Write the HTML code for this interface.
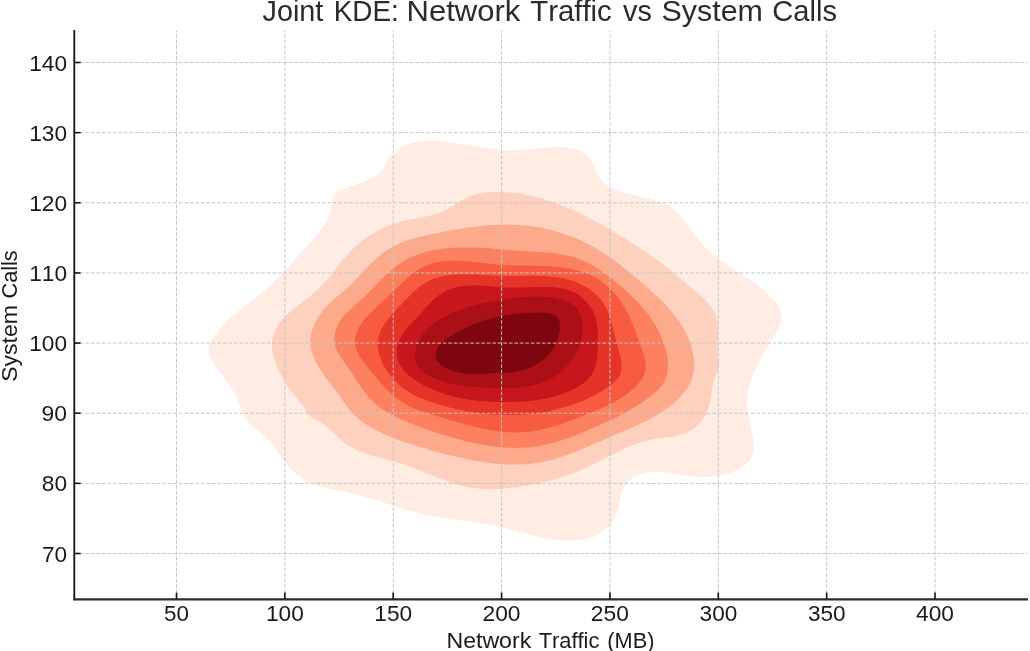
<!DOCTYPE html>
<html><head><meta charset="utf-8"><title>Joint KDE: Network Traffic vs System Calls</title><style>
html,body{margin:0;padding:0;background:#fff;width:1030px;height:651px;overflow:hidden}
svg{display:block;will-change:transform}
text{font-family:"Liberation Sans",sans-serif;font-kerning:none}
</style></head><body>
<svg width="1030" height="651" viewBox="0 0 1030 651">
<rect width="1030" height="651" fill="#fff"/>
<path d="M213.6,336.8 L217.9,331.0 L222.6,325.6 L227.5,320.6 L232.7,315.9 L238.0,311.4 L243.5,307.0 L249.0,302.8 L254.5,298.5 L260.0,294.2 L265.3,289.7 L270.5,285.0 L275.6,280.1 L280.5,275.1 L285.4,269.9 L290.2,264.7 L295.0,259.4 L299.7,254.1 L304.4,248.8 L309.2,243.5 L314.0,238.3 L318.6,233.1 L322.9,227.6 L326.5,221.7 L329.3,215.4 L331.1,208.4 L332.3,201.0 L334.7,194.6 L339.8,190.1 L346.8,187.3 L354.1,185.1 L360.7,183.0 L366.9,180.6 L373.3,177.6 L379.5,173.6 L384.2,168.4 L386.3,162.0 L389.7,157.0 L394.7,152.9 L399.8,148.5 L405.6,145.1 L411.9,142.8 L418.6,141.5 L425.7,140.9 L432.9,140.9 L440.1,141.3 L447.3,142.0 L454.4,143.0 L461.5,144.0 L468.5,145.2 L475.4,146.3 L482.4,147.5 L489.3,148.5 L496.3,149.3 L503.2,150.0 L510.2,150.3 L517.3,150.3 L524.4,149.8 L531.6,149.1 L538.8,148.3 L545.9,147.5 L553.0,147.1 L560.1,147.1 L567.0,147.7 L574.0,149.0 L580.9,151.0 L586.8,154.5 L591.0,160.2 L594.1,167.1 L597.1,174.0 L601.1,179.8 L605.9,184.4 L611.6,187.9 L617.9,190.7 L624.6,192.9 L631.5,194.6 L638.6,196.1 L645.7,197.7 L652.6,199.4 L659.3,201.5 L665.7,204.1 L671.6,207.5 L676.9,211.8 L681.6,217.0 L686.0,222.7 L690.2,228.8 L694.5,234.9 L698.9,240.6 L703.6,245.9 L708.7,250.8 L714.0,255.3 L719.5,259.4 L725.2,263.4 L731.0,267.3 L736.9,271.1 L742.8,274.9 L748.7,278.9 L754.6,283.0 L760.4,287.5 L766.0,292.3 L771.4,297.5 L776.2,303.1 L779.9,309.1 L781.7,315.4 L781.2,321.8 L778.7,328.3 L775.0,334.7 L771.2,340.9 L767.5,347.0 L764.0,353.0 L760.6,359.0 L757.4,365.2 L754.5,371.5 L751.8,378.1 L749.5,385.0 L747.8,391.9 L746.9,398.9 L746.9,405.8 L747.7,412.7 L749.0,419.6 L750.6,426.6 L752.3,433.7 L753.6,440.9 L753.9,448.0 L752.6,454.7 L749.2,460.7 L743.8,465.7 L737.8,469.7 L731.4,472.6 L724.7,474.7 L717.7,476.0 L710.6,476.7 L703.5,476.9 L696.3,476.6 L689.2,476.0 L682.2,475.0 L675.4,473.9 L668.6,472.8 L661.7,472.1 L654.7,471.9 L647.4,472.6 L640.0,474.3 L633.2,477.2 L627.7,481.4 L623.8,487.0 L621.4,493.6 L619.6,500.8 L618.0,508.1 L615.9,515.1 L612.8,521.2 L608.4,526.5 L603.2,530.8 L597.2,534.4 L590.8,537.1 L584.0,539.0 L577.0,540.2 L570.1,540.7 L563.2,540.7 L556.3,540.1 L549.4,539.1 L542.4,537.7 L535.5,536.1 L528.6,534.3 L521.7,532.4 L514.7,530.5 L507.7,528.6 L500.8,526.9 L493.8,525.3 L486.7,524.0 L479.7,522.9 L472.7,521.8 L465.7,520.9 L458.7,519.9 L451.7,519.0 L444.7,518.0 L437.8,516.9 L430.9,515.7 L424.0,514.4 L417.2,512.8 L410.5,511.0 L403.7,509.0 L397.0,507.0 L390.3,504.8 L383.6,502.6 L376.8,500.4 L370.0,498.3 L363.2,496.3 L356.2,494.4 L349.2,492.7 L342.1,491.3 L335.0,489.8 L327.9,488.3 L321.0,486.6 L314.4,484.5 L308.1,481.9 L302.1,478.6 L296.7,474.4 L291.6,469.6 L286.9,464.1 L282.4,458.4 L278.0,452.4 L273.6,446.5 L269.0,440.9 L264.1,435.7 L258.8,431.2 L253.5,427.0 L248.6,422.5 L244.8,417.0 L242.1,410.5 L239.6,403.8 L236.8,397.5 L233.6,391.6 L230.0,385.8 L226.1,380.0 L221.8,374.3 L217.2,368.4 L212.8,362.3 L209.5,356.0 L208.3,349.6 L210.0,343.1Z" fill="#ffece3"/>
<path d="M274.0,332.9 L276.0,328.4 L278.8,324.0 L282.0,319.8 L285.6,316.0 L289.4,312.4 L293.4,309.0 L297.6,305.7 L301.8,302.5 L306.0,299.3 L310.1,296.1 L314.2,292.7 L318.1,289.2 L321.8,285.4 L325.3,281.5 L328.8,277.4 L332.2,273.3 L335.5,269.1 L338.9,264.9 L342.2,260.7 L345.7,256.7 L349.2,252.7 L352.9,248.9 L356.7,245.4 L360.7,242.0 L364.8,238.8 L369.1,235.8 L373.5,233.0 L378.0,230.5 L382.7,228.2 L387.4,226.1 L392.3,224.3 L397.3,222.7 L402.5,221.3 L407.6,220.2 L412.9,219.2 L418.2,218.2 L423.4,217.1 L428.6,216.0 L433.8,214.6 L438.8,213.0 L443.7,211.0 L448.5,208.5 L453.1,205.7 L457.6,202.7 L462.2,199.9 L467.0,197.5 L471.9,195.6 L477.0,194.1 L482.2,193.1 L487.5,192.4 L492.9,192.0 L498.3,191.9 L503.6,192.1 L509.0,192.4 L514.3,192.9 L519.5,193.6 L524.7,194.5 L529.9,195.5 L535.0,196.7 L540.1,198.0 L545.1,199.5 L550.2,201.1 L555.1,202.9 L560.1,204.7 L565.0,206.7 L569.8,208.7 L574.7,210.9 L579.5,213.1 L584.2,215.5 L589.0,217.9 L593.7,220.4 L598.4,222.9 L603.0,225.5 L607.6,228.2 L612.2,230.9 L616.7,233.6 L621.3,236.3 L625.8,239.1 L630.2,241.9 L634.7,244.7 L639.1,247.5 L643.5,250.3 L647.8,253.2 L652.0,256.2 L656.2,259.2 L660.4,262.3 L664.5,265.5 L668.5,268.8 L672.6,272.1 L676.7,275.4 L680.8,278.8 L684.9,282.3 L689.1,285.7 L693.3,289.2 L697.5,292.8 L701.5,296.4 L705.4,300.2 L708.9,304.2 L711.9,308.3 L714.5,312.7 L716.5,317.3 L717.9,322.2 L718.4,327.4 L718.4,332.9 L718.1,338.5 L717.6,344.1 L717.3,349.5 L717.4,354.7 L718.1,359.6 L718.8,364.2 L718.6,368.6 L716.9,373.0 L714.7,377.7 L713.2,382.7 L712.2,388.1 L711.4,393.5 L710.6,399.0 L709.6,404.4 L708.0,409.5 L705.9,414.3 L703.2,418.8 L700.0,422.8 L696.3,426.4 L692.3,429.6 L687.8,432.2 L683.1,434.3 L678.1,435.7 L672.9,436.7 L667.5,437.4 L662.1,438.0 L656.8,438.6 L651.5,439.5 L646.3,440.7 L641.1,442.2 L636.1,443.9 L631.1,445.8 L626.2,447.8 L621.3,450.0 L616.5,452.3 L611.7,454.7 L607.0,457.2 L602.2,459.6 L597.5,462.1 L592.7,464.5 L588.0,466.8 L583.2,469.0 L578.4,471.1 L573.6,473.1 L568.7,474.9 L563.8,476.6 L558.8,478.2 L553.8,479.6 L548.8,480.9 L543.7,482.1 L538.6,483.3 L533.4,484.3 L528.2,485.2 L522.9,486.1 L517.6,486.9 L512.2,487.6 L506.8,488.3 L501.3,488.7 L495.9,489.1 L490.5,489.2 L485.1,489.1 L479.8,488.8 L474.6,488.1 L469.4,487.3 L464.3,486.2 L459.3,484.9 L454.3,483.4 L449.3,481.8 L444.3,480.0 L439.4,478.2 L434.5,476.3 L429.6,474.3 L424.7,472.4 L419.8,470.4 L414.8,468.5 L409.9,466.6 L404.8,464.8 L399.8,463.1 L394.7,461.6 L389.6,460.2 L384.4,458.9 L379.2,457.6 L374.1,456.2 L369.0,454.8 L364.0,453.2 L359.1,451.3 L354.4,449.1 L349.8,446.6 L345.4,443.7 L341.3,440.3 L337.3,436.5 L333.4,432.6 L329.5,428.8 L325.5,425.3 L321.4,422.3 L317.1,420.1 L312.8,418.2 L309.1,415.6 L306.5,411.4 L304.0,407.1 L301.1,403.2 L297.9,399.5 L294.7,395.6 L291.5,391.4 L288.3,387.0 L285.2,382.3 L282.3,377.6 L279.7,372.7 L277.3,367.7 L275.3,362.7 L273.7,357.6 L272.6,352.5 L272.0,347.5 L272.0,342.5 L272.6,337.7Z" fill="#fdd1be"/>
<path d="M310.3,341.9 L310.5,337.8 L311.2,333.7 L312.4,329.6 L313.9,325.5 L315.8,321.5 L318.0,317.6 L320.6,313.8 L323.3,310.1 L326.3,306.6 L329.5,303.3 L332.8,300.2 L336.1,297.3 L339.6,294.5 L343.0,291.7 L346.4,288.8 L349.6,285.8 L352.8,282.7 L355.9,279.5 L358.9,276.2 L361.9,272.9 L364.9,269.7 L368.0,266.5 L371.1,263.4 L374.2,260.4 L377.5,257.6 L380.8,254.8 L384.2,252.2 L387.7,249.8 L391.4,247.6 L395.1,245.5 L399.0,243.6 L403.1,242.0 L407.2,240.5 L411.5,239.1 L415.8,237.9 L420.2,236.8 L424.6,235.8 L429.0,234.8 L433.4,233.8 L437.8,232.9 L442.3,232.0 L446.7,231.1 L451.1,230.3 L455.5,229.5 L459.9,228.8 L464.3,228.1 L468.7,227.5 L473.1,226.9 L477.4,226.4 L481.8,225.9 L486.2,225.5 L490.6,225.2 L494.9,225.0 L499.3,224.8 L503.6,224.7 L508.0,224.7 L512.3,224.8 L516.7,225.0 L521.0,225.2 L525.3,225.6 L529.7,226.1 L534.0,226.7 L538.3,227.3 L542.6,228.1 L546.9,229.1 L551.2,230.1 L555.5,231.2 L559.8,232.5 L564.1,233.9 L568.3,235.4 L572.5,237.0 L576.6,238.6 L580.7,240.4 L584.7,242.3 L588.6,244.3 L592.5,246.3 L596.2,248.5 L599.9,250.7 L603.5,252.9 L607.0,255.3 L610.5,257.7 L613.9,260.2 L617.2,262.7 L620.6,265.3 L623.9,267.9 L627.2,270.5 L630.5,273.3 L633.8,276.0 L637.1,278.8 L640.4,281.6 L643.7,284.4 L647.0,287.3 L650.4,290.2 L653.7,293.2 L656.9,296.2 L660.2,299.3 L663.3,302.4 L666.4,305.7 L669.4,309.0 L672.3,312.4 L675.1,315.9 L677.8,319.5 L680.3,323.2 L682.7,327.1 L684.9,331.0 L686.9,335.1 L688.7,339.3 L690.4,343.6 L691.7,348.0 L692.8,352.4 L693.6,356.8 L694.1,361.2 L694.2,365.6 L693.9,369.9 L693.2,374.1 L692.1,378.2 L690.5,382.1 L688.6,386.0 L686.2,389.6 L683.5,393.1 L680.6,396.5 L677.5,399.7 L674.2,402.7 L670.9,405.5 L667.4,408.2 L663.8,410.7 L660.2,413.1 L656.4,415.4 L652.6,417.6 L648.7,419.7 L644.8,421.7 L640.8,423.6 L636.8,425.5 L632.7,427.3 L628.7,429.1 L624.5,430.8 L620.4,432.6 L616.3,434.3 L612.1,436.1 L608.0,437.9 L603.8,439.7 L599.7,441.5 L595.5,443.3 L591.4,445.1 L587.2,446.9 L583.1,448.6 L578.9,450.4 L574.8,452.0 L570.6,453.6 L566.4,455.1 L562.2,456.6 L558.0,457.9 L553.8,459.2 L549.6,460.3 L545.3,461.3 L541.0,462.2 L536.7,462.9 L532.4,463.5 L528.1,464.0 L523.7,464.3 L519.4,464.5 L515.0,464.6 L510.6,464.5 L506.2,464.4 L501.8,464.1 L497.4,463.7 L493.0,463.3 L488.5,462.8 L484.1,462.1 L479.7,461.5 L475.3,460.7 L470.9,459.9 L466.5,459.0 L462.1,458.0 L457.7,457.1 L453.3,456.0 L449.0,455.0 L444.6,453.9 L440.3,452.7 L436.0,451.6 L431.7,450.4 L427.4,449.2 L423.2,448.0 L419.0,446.8 L414.8,445.5 L410.6,444.1 L406.4,442.7 L402.3,441.3 L398.1,439.7 L394.0,438.2 L389.9,436.5 L385.8,434.8 L381.7,433.0 L377.7,431.1 L373.8,429.1 L369.9,426.9 L366.2,424.6 L362.7,422.2 L359.2,419.5 L356.0,416.7 L353.0,413.7 L350.2,410.5 L347.6,407.1 L345.0,403.5 L342.4,399.9 L339.8,396.2 L337.1,392.5 L334.3,388.8 L331.4,385.0 L328.5,381.3 L325.7,377.5 L323.0,373.6 L320.4,369.8 L318.0,365.9 L315.9,362.0 L314.0,358.0 L312.5,354.1 L311.3,350.1 L310.6,346.0Z" fill="#fca98c"/>
<path d="M334.6,343.3 L334.2,339.8 L334.4,336.4 L334.9,332.9 L335.9,329.4 L337.2,326.1 L338.9,322.8 L340.9,319.6 L343.2,316.6 L345.7,313.8 L348.5,311.1 L351.3,308.4 L354.3,305.8 L357.3,303.1 L360.3,300.5 L363.2,297.8 L366.1,295.1 L368.9,292.3 L371.7,289.5 L374.4,286.6 L377.1,283.8 L379.8,281.0 L382.5,278.3 L385.2,275.6 L388.0,273.0 L390.8,270.5 L393.7,268.1 L396.6,265.8 L399.6,263.6 L402.7,261.6 L406.0,259.8 L409.2,258.1 L412.6,256.6 L416.1,255.2 L419.6,253.9 L423.2,252.8 L426.8,251.7 L430.5,250.8 L434.2,250.1 L438.0,249.4 L441.8,248.8 L445.6,248.4 L449.5,248.0 L453.4,247.7 L457.3,247.5 L461.2,247.4 L465.1,247.4 L469.0,247.4 L472.8,247.5 L476.7,247.6 L480.5,247.8 L484.3,248.0 L488.1,248.3 L491.9,248.6 L495.7,249.0 L499.5,249.3 L503.3,249.6 L507.1,250.0 L510.9,250.3 L514.7,250.6 L518.5,250.9 L522.4,251.1 L526.3,251.3 L530.2,251.5 L534.1,251.7 L538.0,251.9 L541.9,252.2 L545.8,252.4 L549.7,252.8 L553.6,253.1 L557.4,253.6 L561.2,254.2 L564.9,254.9 L568.6,255.7 L572.2,256.7 L575.7,257.8 L579.2,259.0 L582.6,260.4 L586.0,261.9 L589.3,263.6 L592.6,265.4 L595.8,267.2 L598.9,269.2 L602.0,271.3 L605.1,273.5 L608.2,275.7 L611.2,278.0 L614.1,280.4 L617.1,282.9 L620.0,285.4 L622.9,287.9 L625.8,290.5 L628.6,293.1 L631.4,295.8 L634.1,298.6 L636.8,301.3 L639.5,304.2 L642.0,307.1 L644.5,310.0 L647.0,313.0 L649.3,316.1 L651.5,319.2 L653.6,322.5 L655.6,325.7 L657.5,329.1 L659.3,332.5 L661.0,336.0 L662.5,339.6 L663.8,343.2 L665.1,347.0 L666.1,350.8 L666.9,354.6 L667.6,358.5 L667.9,362.3 L668.0,366.1 L667.8,369.8 L667.3,373.4 L666.3,376.8 L665.0,380.1 L663.3,383.2 L661.2,386.1 L658.8,388.9 L656.2,391.5 L653.4,394.0 L650.4,396.4 L647.3,398.7 L644.1,401.0 L640.9,403.2 L637.6,405.3 L634.3,407.3 L631.0,409.3 L627.6,411.3 L624.2,413.2 L620.7,415.0 L617.2,416.8 L613.7,418.5 L610.2,420.2 L606.6,421.9 L603.1,423.5 L599.5,425.1 L596.0,426.7 L592.4,428.2 L588.9,429.7 L585.3,431.2 L581.8,432.7 L578.2,434.1 L574.7,435.5 L571.2,436.9 L567.6,438.2 L564.1,439.4 L560.6,440.6 L557.0,441.7 L553.5,442.8 L549.9,443.7 L546.3,444.6 L542.7,445.4 L539.0,446.0 L535.3,446.6 L531.7,447.0 L527.9,447.4 L524.2,447.6 L520.4,447.8 L516.7,447.9 L512.9,447.8 L509.1,447.7 L505.2,447.5 L501.4,447.2 L497.6,446.8 L493.7,446.4 L489.9,445.9 L486.1,445.3 L482.2,444.7 L478.4,443.9 L474.5,443.2 L470.7,442.3 L466.8,441.4 L463.0,440.5 L459.2,439.5 L455.4,438.5 L451.6,437.4 L447.8,436.3 L444.1,435.1 L440.3,434.0 L436.6,432.7 L432.9,431.5 L429.3,430.2 L425.6,428.9 L422.0,427.6 L418.4,426.3 L414.9,424.9 L411.4,423.6 L407.9,422.2 L404.4,420.8 L401.1,419.3 L397.7,417.8 L394.4,416.2 L391.2,414.5 L388.1,412.8 L385.0,410.9 L382.0,408.9 L379.1,406.7 L376.2,404.4 L373.5,402.0 L370.8,399.4 L368.2,396.6 L365.8,393.6 L363.4,390.4 L361.0,387.1 L358.8,383.7 L356.5,380.2 L354.2,376.7 L351.9,373.3 L349.6,369.8 L347.2,366.4 L344.8,363.1 L342.5,359.8 L340.3,356.5 L338.4,353.2 L336.7,349.9 L335.5,346.6Z" fill="#fc8161"/>
<path d="M354.8,340.2 L355.2,337.2 L356.0,334.1 L357.2,331.0 L358.6,328.0 L360.4,325.1 L362.3,322.2 L364.3,319.5 L366.5,316.9 L368.8,314.5 L371.1,312.2 L373.4,310.0 L375.9,307.9 L378.3,305.7 L380.8,303.6 L383.3,301.3 L385.7,299.0 L388.2,296.6 L390.7,294.2 L393.2,291.7 L395.7,289.2 L398.2,286.6 L400.7,284.2 L403.3,281.7 L405.8,279.3 L408.4,277.0 L411.1,274.8 L413.8,272.7 L416.5,270.8 L419.2,269.1 L422.0,267.5 L424.9,266.1 L427.8,264.9 L430.8,263.9 L433.7,263.1 L436.8,262.4 L439.9,261.8 L443.0,261.4 L446.1,261.1 L449.3,260.9 L452.5,260.8 L455.8,260.8 L459.1,260.9 L462.4,261.0 L465.7,261.3 L469.1,261.5 L472.5,261.9 L475.9,262.2 L479.3,262.6 L482.7,263.0 L486.2,263.3 L489.6,263.7 L493.1,264.1 L496.6,264.4 L500.1,264.7 L503.6,264.9 L507.1,265.1 L510.6,265.3 L514.1,265.4 L517.7,265.5 L521.2,265.6 L524.7,265.6 L528.1,265.7 L531.6,265.8 L535.1,265.8 L538.5,265.9 L542.0,266.0 L545.4,266.1 L548.8,266.3 L552.1,266.5 L555.5,266.7 L558.8,267.1 L562.1,267.4 L565.3,267.9 L568.5,268.4 L571.7,269.0 L574.8,269.7 L577.9,270.5 L581.0,271.4 L584.0,272.4 L587.0,273.5 L589.9,274.7 L592.7,276.1 L595.5,277.6 L598.3,279.3 L601.0,281.1 L603.6,283.0 L606.1,285.1 L608.6,287.3 L611.0,289.6 L613.3,292.0 L615.5,294.5 L617.7,297.2 L619.7,299.8 L621.6,302.6 L623.4,305.4 L625.1,308.3 L626.7,311.3 L628.2,314.3 L629.7,317.3 L631.0,320.4 L632.4,323.5 L633.6,326.7 L634.9,329.9 L636.0,333.1 L637.2,336.3 L638.4,339.6 L639.5,342.9 L640.7,346.1 L641.9,349.4 L643.0,352.7 L644.0,356.0 L644.8,359.2 L645.4,362.4 L645.7,365.5 L645.7,368.5 L645.2,371.5 L644.3,374.3 L643.0,377.1 L641.4,379.7 L639.5,382.3 L637.4,384.7 L635.2,387.1 L632.8,389.3 L630.3,391.4 L627.7,393.5 L625.0,395.4 L622.2,397.3 L619.4,399.1 L616.5,400.8 L613.5,402.4 L610.5,404.0 L607.4,405.5 L604.3,407.0 L601.1,408.4 L597.9,409.8 L594.7,411.2 L591.5,412.5 L588.3,413.8 L585.1,415.1 L581.9,416.4 L578.7,417.6 L575.6,418.9 L572.4,420.1 L569.2,421.2 L566.0,422.4 L562.9,423.5 L559.7,424.5 L556.5,425.5 L553.4,426.5 L550.2,427.4 L547.0,428.2 L543.8,429.0 L540.6,429.7 L537.4,430.4 L534.2,430.9 L531.0,431.4 L527.8,431.8 L524.5,432.1 L521.3,432.3 L518.0,432.4 L514.7,432.4 L511.5,432.3 L508.1,432.2 L504.8,431.9 L501.5,431.6 L498.2,431.2 L494.8,430.8 L491.5,430.2 L488.1,429.6 L484.8,429.0 L481.4,428.3 L478.1,427.5 L474.7,426.7 L471.4,425.9 L468.0,425.0 L464.7,424.2 L461.4,423.2 L458.0,422.3 L454.7,421.3 L451.4,420.4 L448.1,419.4 L444.8,418.4 L441.5,417.4 L438.3,416.4 L435.0,415.5 L431.8,414.5 L428.6,413.5 L425.4,412.5 L422.3,411.5 L419.2,410.4 L416.1,409.2 L413.1,408.0 L410.2,406.6 L407.3,405.2 L404.5,403.6 L401.8,401.9 L399.1,400.0 L396.5,398.1 L394.0,396.0 L391.5,393.8 L389.1,391.5 L386.7,389.2 L384.4,386.8 L382.0,384.3 L379.7,381.7 L377.5,379.1 L375.2,376.5 L373.0,373.8 L370.7,371.2 L368.5,368.5 L366.3,365.8 L364.1,363.1 L362.1,360.3 L360.3,357.6 L358.6,354.8 L357.2,352.0 L356.1,349.1 L355.3,346.2 L354.8,343.2Z" fill="#f75b40"/>
<path d="M377.9,340.2 L378.4,337.6 L379.1,335.1 L379.9,332.6 L381.0,330.2 L382.2,327.8 L383.6,325.4 L385.1,323.1 L386.8,320.8 L388.6,318.5 L390.4,316.2 L392.4,314.0 L394.4,311.7 L396.4,309.5 L398.5,307.3 L400.6,305.0 L402.8,302.8 L404.9,300.6 L407.0,298.4 L409.2,296.2 L411.3,294.1 L413.5,292.0 L415.6,290.0 L417.9,288.1 L420.1,286.3 L422.4,284.7 L424.7,283.2 L427.1,281.8 L429.5,280.6 L431.9,279.5 L434.4,278.5 L437.0,277.7 L439.5,276.9 L442.1,276.3 L444.8,275.8 L447.4,275.3 L450.1,275.0 L452.9,274.7 L455.6,274.5 L458.4,274.4 L461.2,274.3 L464.0,274.3 L466.9,274.3 L469.8,274.4 L472.6,274.5 L475.5,274.6 L478.5,274.7 L481.4,274.9 L484.3,275.1 L487.3,275.3 L490.3,275.4 L493.2,275.6 L496.2,275.7 L499.2,275.8 L502.2,275.9 L505.2,276.0 L508.1,276.0 L511.1,276.0 L514.1,276.0 L517.1,276.0 L520.1,275.9 L523.0,275.9 L526.0,275.9 L528.9,275.8 L531.9,275.8 L534.8,275.8 L537.7,275.9 L540.6,275.9 L543.5,276.1 L546.4,276.2 L549.2,276.4 L552.0,276.7 L554.8,277.0 L557.6,277.3 L560.4,277.8 L563.1,278.3 L565.8,278.9 L568.5,279.6 L571.1,280.4 L573.8,281.3 L576.3,282.2 L578.9,283.3 L581.4,284.5 L583.9,285.8 L586.3,287.3 L588.7,288.8 L591.0,290.5 L593.2,292.2 L595.4,294.1 L597.4,296.1 L599.4,298.1 L601.2,300.3 L602.9,302.5 L604.4,304.8 L605.8,307.2 L607.0,309.7 L608.2,312.2 L609.2,314.8 L610.1,317.5 L610.9,320.2 L611.6,322.9 L612.3,325.7 L613.0,328.6 L613.7,331.4 L614.4,334.3 L615.2,337.2 L615.9,340.1 L616.8,343.0 L617.6,345.9 L618.4,348.7 L619.2,351.6 L620.0,354.4 L620.6,357.2 L621.1,359.9 L621.5,362.6 L621.6,365.2 L621.6,367.7 L621.3,370.2 L620.8,372.5 L619.9,374.8 L618.7,377.0 L617.3,379.0 L615.5,381.0 L613.6,382.9 L611.4,384.7 L609.1,386.4 L606.7,388.0 L604.2,389.6 L601.7,391.2 L599.1,392.6 L596.5,394.1 L593.9,395.4 L591.3,396.7 L588.7,398.0 L586.0,399.2 L583.4,400.4 L580.7,401.5 L578.0,402.6 L575.3,403.6 L572.6,404.6 L569.9,405.6 L567.2,406.4 L564.4,407.3 L561.7,408.1 L558.9,408.8 L556.1,409.5 L553.3,410.2 L550.5,410.8 L547.7,411.4 L544.9,411.9 L542.1,412.4 L539.3,412.8 L536.5,413.2 L533.6,413.6 L530.8,413.9 L528.0,414.2 L525.1,414.4 L522.3,414.6 L519.4,414.8 L516.6,414.9 L513.7,415.0 L510.8,415.0 L508.0,415.0 L505.1,415.0 L502.3,414.9 L499.4,414.8 L496.6,414.7 L493.7,414.5 L490.9,414.3 L488.0,414.0 L485.2,413.8 L482.3,413.4 L479.5,413.1 L476.7,412.7 L473.8,412.3 L471.0,411.9 L468.2,411.4 L465.4,410.9 L462.6,410.3 L459.8,409.8 L457.0,409.2 L454.2,408.5 L451.5,407.9 L448.7,407.2 L446.0,406.4 L443.2,405.7 L440.5,404.9 L437.8,404.1 L435.1,403.3 L432.4,402.4 L429.7,401.5 L427.1,400.6 L424.5,399.6 L421.8,398.6 L419.2,397.5 L416.7,396.3 L414.2,395.0 L411.7,393.7 L409.2,392.3 L406.8,390.7 L404.4,389.1 L402.1,387.3 L399.8,385.4 L397.6,383.4 L395.4,381.3 L393.3,379.0 L391.3,376.7 L389.4,374.3 L387.6,371.9 L386.0,369.4 L384.4,366.8 L383.0,364.2 L381.7,361.5 L380.6,358.8 L379.7,356.2 L378.9,353.5 L378.3,350.8 L377.9,348.1 L377.7,345.4 L377.7,342.8Z" fill="#e63328"/>
<path d="M399.3,340.3 L400.3,338.1 L401.4,336.1 L402.6,334.1 L403.9,332.1 L405.4,330.3 L406.9,328.4 L408.5,326.6 L410.1,324.9 L411.7,323.1 L413.4,321.4 L415.0,319.7 L416.7,318.0 L418.3,316.2 L419.9,314.5 L421.5,312.7 L423.0,311.0 L424.6,309.2 L426.1,307.4 L427.7,305.7 L429.3,304.0 L431.0,302.3 L432.6,300.6 L434.4,299.0 L436.2,297.5 L438.0,296.0 L440.0,294.6 L442.0,293.3 L444.1,292.1 L446.2,291.0 L448.3,290.0 L450.5,289.1 L452.6,288.4 L454.8,287.7 L457.1,287.1 L459.3,286.7 L461.5,286.3 L463.8,286.0 L466.1,285.8 L468.4,285.6 L470.7,285.5 L473.0,285.5 L475.3,285.5 L477.7,285.5 L480.0,285.6 L482.4,285.8 L484.8,285.9 L487.2,286.1 L489.6,286.3 L492.1,286.5 L494.5,286.7 L496.9,286.9 L499.4,287.0 L501.9,287.2 L504.4,287.4 L506.8,287.5 L509.3,287.6 L511.8,287.6 L514.4,287.6 L516.9,287.6 L519.4,287.5 L521.9,287.4 L524.5,287.4 L527.0,287.3 L529.5,287.2 L532.0,287.1 L534.5,287.0 L537.0,286.9 L539.5,286.9 L541.9,286.8 L544.4,286.8 L546.8,286.9 L549.2,286.9 L551.6,287.1 L553.9,287.2 L556.3,287.5 L558.6,287.8 L560.8,288.2 L563.1,288.6 L565.3,289.1 L567.4,289.8 L569.5,290.5 L571.6,291.3 L573.7,292.2 L575.7,293.2 L577.6,294.4 L579.5,295.6 L581.3,297.0 L583.1,298.5 L584.8,300.1 L586.5,301.9 L588.0,303.7 L589.5,305.6 L590.9,307.6 L592.1,309.7 L593.3,311.9 L594.3,314.1 L595.1,316.3 L595.8,318.6 L596.4,321.0 L596.9,323.4 L597.2,325.8 L597.4,328.2 L597.6,330.6 L597.7,333.1 L597.7,335.6 L597.7,338.1 L597.7,340.6 L597.8,343.2 L597.7,345.7 L597.7,348.2 L597.7,350.7 L597.6,353.2 L597.4,355.6 L597.2,358.0 L596.8,360.4 L596.4,362.7 L595.9,365.0 L595.3,367.2 L594.5,369.3 L593.6,371.4 L592.5,373.4 L591.3,375.3 L589.9,377.0 L588.4,378.8 L586.8,380.4 L585.0,381.9 L583.1,383.4 L581.1,384.8 L579.1,386.1 L577.0,387.3 L574.8,388.5 L572.6,389.6 L570.4,390.6 L568.2,391.6 L565.9,392.5 L563.7,393.4 L561.4,394.2 L559.1,395.0 L556.9,395.7 L554.6,396.4 L552.2,397.0 L549.9,397.6 L547.6,398.1 L545.3,398.6 L542.9,399.0 L540.6,399.5 L538.2,399.8 L535.9,400.2 L533.5,400.5 L531.1,400.7 L528.8,401.0 L526.4,401.2 L524.0,401.4 L521.6,401.5 L519.2,401.6 L516.8,401.8 L514.4,401.9 L512.0,401.9 L509.6,402.0 L507.2,402.0 L504.8,402.0 L502.4,402.0 L500.0,402.0 L497.7,402.0 L495.3,401.9 L492.9,401.9 L490.5,401.8 L488.1,401.6 L485.7,401.5 L483.3,401.3 L480.9,401.1 L478.5,400.9 L476.2,400.6 L473.8,400.4 L471.4,400.0 L469.1,399.7 L466.7,399.3 L464.4,398.9 L462.0,398.5 L459.7,398.0 L457.3,397.5 L455.0,396.9 L452.7,396.4 L450.4,395.7 L448.1,395.1 L445.8,394.4 L443.5,393.6 L441.2,392.8 L438.9,392.0 L436.7,391.2 L434.4,390.2 L432.2,389.3 L430.0,388.3 L427.7,387.2 L425.5,386.1 L423.3,385.0 L421.1,383.8 L419.0,382.5 L416.8,381.2 L414.8,379.8 L412.7,378.4 L410.8,377.0 L408.9,375.4 L407.1,373.8 L405.4,372.2 L403.8,370.4 L402.4,368.6 L401.1,366.8 L399.9,364.9 L398.9,362.8 L398.1,360.8 L397.5,358.6 L397.1,356.4 L396.9,354.1 L396.8,351.8 L397.0,349.4 L397.3,347.1 L397.8,344.8 L398.5,342.5Z" fill="#c7171c"/>
<path d="M419.6,339.1 L420.6,337.5 L421.7,335.9 L423.0,334.3 L424.2,332.8 L425.6,331.3 L427.0,329.8 L428.5,328.4 L430.1,327.0 L431.7,325.7 L433.3,324.4 L435.0,323.1 L436.7,321.9 L438.5,320.8 L440.2,319.6 L442.0,318.5 L443.8,317.5 L445.6,316.5 L447.4,315.6 L449.1,314.6 L450.9,313.8 L452.7,312.9 L454.5,312.1 L456.3,311.4 L458.0,310.7 L459.8,310.0 L461.6,309.3 L463.4,308.7 L465.1,308.1 L466.9,307.5 L468.7,307.0 L470.5,306.5 L472.3,306.0 L474.0,305.5 L475.8,305.1 L477.6,304.6 L479.4,304.2 L481.2,303.8 L483.0,303.5 L484.8,303.1 L486.6,302.7 L488.5,302.4 L490.3,302.1 L492.1,301.7 L494.0,301.4 L495.8,301.1 L497.7,300.8 L499.6,300.5 L501.4,300.2 L503.3,299.9 L505.2,299.6 L507.1,299.3 L509.1,299.1 L511.0,298.8 L512.9,298.5 L514.8,298.2 L516.8,298.0 L518.7,297.8 L520.7,297.5 L522.6,297.3 L524.6,297.2 L526.6,297.0 L528.5,296.9 L530.5,296.7 L532.5,296.7 L534.4,296.6 L536.4,296.6 L538.4,296.6 L540.3,296.6 L542.3,296.7 L544.3,296.8 L546.2,296.9 L548.2,297.1 L550.1,297.3 L552.1,297.6 L554.0,297.9 L556.0,298.3 L557.9,298.7 L559.7,299.2 L561.6,299.7 L563.4,300.3 L565.1,300.9 L566.8,301.7 L568.5,302.4 L570.1,303.3 L571.6,304.2 L573.0,305.2 L574.4,306.3 L575.6,307.5 L576.8,308.8 L577.8,310.1 L578.8,311.6 L579.6,313.1 L580.4,314.7 L581.0,316.4 L581.5,318.2 L581.9,320.1 L582.1,322.0 L582.3,323.9 L582.4,325.9 L582.5,328.0 L582.4,330.0 L582.2,332.1 L582.0,334.1 L581.7,336.2 L581.3,338.2 L580.8,340.2 L580.3,342.2 L579.7,344.1 L579.1,346.0 L578.4,347.9 L577.6,349.7 L576.8,351.5 L575.9,353.3 L575.0,355.0 L574.0,356.7 L573.0,358.3 L571.9,359.9 L570.8,361.5 L569.6,363.0 L568.4,364.5 L567.1,365.9 L565.8,367.3 L564.4,368.6 L563.1,370.0 L561.6,371.2 L560.2,372.4 L558.7,373.6 L557.2,374.7 L555.6,375.8 L554.0,376.8 L552.4,377.8 L550.8,378.8 L549.1,379.7 L547.4,380.5 L545.7,381.3 L543.9,382.0 L542.2,382.7 L540.4,383.4 L538.6,384.0 L536.8,384.5 L535.0,385.0 L533.1,385.5 L531.2,385.9 L529.4,386.3 L527.5,386.6 L525.6,386.9 L523.7,387.2 L521.8,387.4 L519.8,387.6 L517.9,387.8 L516.0,388.0 L514.0,388.1 L512.1,388.2 L510.1,388.2 L508.2,388.3 L506.2,388.3 L504.2,388.3 L502.3,388.3 L500.3,388.3 L498.3,388.2 L496.4,388.2 L494.4,388.1 L492.5,388.0 L490.5,388.0 L488.6,387.9 L486.7,387.8 L484.7,387.6 L482.8,387.5 L480.9,387.4 L479.0,387.3 L477.1,387.2 L475.2,387.0 L473.4,386.9 L471.5,386.7 L469.6,386.6 L467.7,386.4 L465.9,386.2 L464.0,385.9 L462.1,385.7 L460.2,385.4 L458.3,385.1 L456.4,384.8 L454.5,384.4 L452.6,384.0 L450.7,383.6 L448.7,383.1 L446.8,382.6 L444.8,382.0 L442.9,381.4 L440.9,380.8 L438.9,380.1 L437.0,379.4 L435.0,378.6 L433.1,377.8 L431.3,376.9 L429.5,375.9 L427.8,374.9 L426.1,373.9 L424.5,372.8 L423.0,371.6 L421.6,370.4 L420.4,369.1 L419.2,367.8 L418.2,366.4 L417.3,364.9 L416.6,363.3 L416.0,361.8 L415.5,360.1 L415.2,358.4 L415.0,356.7 L415.0,355.0 L415.0,353.2 L415.2,351.4 L415.5,349.7 L415.9,347.9 L416.4,346.1 L417.1,344.3 L417.8,342.6 L418.6,340.8Z" fill="#aa1016"/>
<path d="M451.3,335.9 L452.6,335.1 L453.8,334.3 L455.1,333.6 L456.4,332.8 L457.7,332.1 L458.9,331.4 L460.2,330.7 L461.5,330.0 L462.8,329.3 L464.1,328.7 L465.3,328.0 L466.6,327.4 L467.9,326.8 L469.2,326.2 L470.5,325.7 L471.8,325.1 L473.1,324.5 L474.4,324.0 L475.7,323.5 L477.0,323.0 L478.3,322.5 L479.6,322.0 L480.9,321.6 L482.2,321.1 L483.5,320.7 L484.9,320.3 L486.2,319.9 L487.5,319.5 L488.8,319.1 L490.2,318.7 L491.5,318.4 L492.8,318.0 L494.2,317.7 L495.5,317.4 L496.8,317.1 L498.2,316.8 L499.5,316.5 L500.9,316.2 L502.2,315.9 L503.6,315.7 L505.0,315.5 L506.3,315.2 L507.7,315.0 L509.1,314.8 L510.4,314.6 L511.8,314.4 L513.2,314.2 L514.6,314.1 L516.0,313.9 L517.4,313.8 L518.8,313.6 L520.2,313.5 L521.6,313.4 L523.0,313.3 L524.4,313.2 L525.8,313.1 L527.2,313.0 L528.6,312.9 L530.1,312.9 L531.5,312.8 L532.9,312.8 L534.4,312.7 L535.8,312.7 L537.2,312.7 L538.7,312.7 L540.2,312.6 L541.6,312.7 L543.0,312.7 L544.4,312.7 L545.8,312.8 L547.2,313.0 L548.5,313.1 L549.8,313.4 L551.0,313.6 L552.2,314.0 L553.3,314.4 L554.4,314.8 L555.3,315.4 L556.2,316.0 L557.0,316.8 L557.7,317.6 L558.3,318.5 L558.8,319.5 L559.2,320.6 L559.5,321.8 L559.7,323.0 L559.9,324.3 L559.9,325.6 L559.9,327.0 L559.8,328.5 L559.7,329.9 L559.5,331.4 L559.2,332.9 L558.9,334.4 L558.5,335.8 L558.0,337.3 L557.6,338.8 L557.0,340.2 L556.5,341.6 L555.9,343.0 L555.3,344.3 L554.6,345.6 L553.9,346.9 L553.1,348.1 L552.4,349.4 L551.5,350.5 L550.7,351.7 L549.8,352.8 L548.9,353.9 L548.0,355.0 L547.0,356.0 L546.1,357.0 L545.0,358.0 L544.0,358.9 L542.9,359.8 L541.9,360.7 L540.8,361.5 L539.6,362.3 L538.5,363.1 L537.3,363.8 L536.1,364.6 L534.9,365.2 L533.7,365.9 L532.5,366.5 L531.2,367.1 L529.9,367.7 L528.7,368.2 L527.4,368.7 L526.1,369.2 L524.8,369.6 L523.5,370.0 L522.1,370.4 L520.8,370.7 L519.5,371.0 L518.1,371.3 L516.8,371.6 L515.4,371.8 L514.0,372.0 L512.7,372.2 L511.3,372.3 L509.9,372.5 L508.6,372.6 L507.2,372.7 L505.8,372.8 L504.4,372.9 L503.0,373.0 L501.6,373.0 L500.3,373.1 L498.9,373.2 L497.5,373.2 L496.1,373.3 L494.7,373.3 L493.3,373.4 L491.9,373.4 L490.5,373.5 L489.2,373.5 L487.8,373.6 L486.4,373.7 L485.0,373.7 L483.6,373.8 L482.3,373.9 L480.9,373.9 L479.5,374.0 L478.1,374.0 L476.7,374.0 L475.3,374.0 L473.9,374.0 L472.5,374.0 L471.1,374.0 L469.7,373.9 L468.3,373.8 L466.9,373.7 L465.4,373.6 L464.0,373.4 L462.5,373.2 L461.1,372.9 L459.6,372.7 L458.1,372.4 L456.7,372.0 L455.2,371.6 L453.7,371.2 L452.2,370.7 L450.8,370.2 L449.4,369.7 L448.0,369.1 L446.6,368.5 L445.3,367.8 L444.1,367.1 L442.9,366.4 L441.8,365.6 L440.7,364.8 L439.7,364.0 L438.9,363.1 L438.1,362.2 L437.4,361.2 L436.8,360.2 L436.4,359.2 L436.0,358.2 L435.8,357.1 L435.6,356.0 L435.6,354.9 L435.7,353.8 L435.9,352.6 L436.2,351.5 L436.6,350.4 L437.1,349.2 L437.7,348.1 L438.3,347.0 L439.1,346.0 L439.9,344.9 L440.9,343.9 L441.8,342.9 L442.9,342.0 L444.0,341.0 L445.1,340.1 L446.3,339.2 L447.5,338.4 L448.8,337.5 L450.0,336.7Z" fill="#7e0610"/>
<g stroke="#c6c6c6" stroke-width="1" stroke-dasharray="3.7 1.8"><line x1="176.50" y1="598.9" x2="176.50" y2="30.8"/><line x1="284.86" y1="598.9" x2="284.86" y2="30.8"/><line x1="393.22" y1="598.9" x2="393.22" y2="30.8"/><line x1="501.58" y1="598.9" x2="501.58" y2="30.8"/><line x1="609.94" y1="598.9" x2="609.94" y2="30.8"/><line x1="718.30" y1="598.9" x2="718.30" y2="30.8"/><line x1="826.66" y1="598.9" x2="826.66" y2="30.8"/><line x1="935.02" y1="598.9" x2="935.02" y2="30.8"/><line x1="74.3" y1="553.50" x2="1028.0" y2="553.50"/><line x1="74.3" y1="483.36" x2="1028.0" y2="483.36"/><line x1="74.3" y1="413.22" x2="1028.0" y2="413.22"/><line x1="74.3" y1="343.08" x2="1028.0" y2="343.08"/><line x1="74.3" y1="272.94" x2="1028.0" y2="272.94"/><line x1="74.3" y1="202.80" x2="1028.0" y2="202.80"/><line x1="74.3" y1="132.66" x2="1028.0" y2="132.66"/><line x1="74.3" y1="62.52" x2="1028.0" y2="62.52"/></g>
<line x1="74.3" y1="29.900000000000002" x2="74.3" y2="600.1999999999999" stroke="#111" stroke-width="1.8"/>
<line x1="73.39999999999999" y1="599.3" x2="1028.0" y2="599.3" stroke="#2b2b2b" stroke-width="2.2"/>
<g stroke="#111" stroke-width="1.6"><line x1="176.50" y1="598.9" x2="176.50" y2="592.6"/><line x1="284.86" y1="598.9" x2="284.86" y2="592.6"/><line x1="393.22" y1="598.9" x2="393.22" y2="592.6"/><line x1="501.58" y1="598.9" x2="501.58" y2="592.6"/><line x1="609.94" y1="598.9" x2="609.94" y2="592.6"/><line x1="718.30" y1="598.9" x2="718.30" y2="592.6"/><line x1="826.66" y1="598.9" x2="826.66" y2="592.6"/><line x1="935.02" y1="598.9" x2="935.02" y2="592.6"/><line x1="74.3" y1="553.50" x2="80.6" y2="553.50"/><line x1="74.3" y1="483.36" x2="80.6" y2="483.36"/><line x1="74.3" y1="413.22" x2="80.6" y2="413.22"/><line x1="74.3" y1="343.08" x2="80.6" y2="343.08"/><line x1="74.3" y1="272.94" x2="80.6" y2="272.94"/><line x1="74.3" y1="202.80" x2="80.6" y2="202.80"/><line x1="74.3" y1="132.66" x2="80.6" y2="132.66"/><line x1="74.3" y1="62.52" x2="80.6" y2="62.52"/></g>
<g font-family="Liberation Sans, sans-serif" fill="#1a1a1a"><text x="164.12" y="621.00" font-size="21.7" textLength="24.95" lengthAdjust="spacingAndGlyphs">50</text><text x="265.94" y="621.00" font-size="21.7" textLength="37.86" lengthAdjust="spacingAndGlyphs">100</text><text x="374.30" y="621.00" font-size="21.7" textLength="37.86" lengthAdjust="spacingAndGlyphs">150</text><text x="482.51" y="621.00" font-size="21.7" textLength="38.02" lengthAdjust="spacingAndGlyphs">200</text><text x="590.87" y="621.00" font-size="21.7" textLength="38.02" lengthAdjust="spacingAndGlyphs">250</text><text x="699.58" y="621.00" font-size="21.7" textLength="37.66" lengthAdjust="spacingAndGlyphs">300</text><text x="807.94" y="621.00" font-size="21.7" textLength="37.66" lengthAdjust="spacingAndGlyphs">350</text><text x="916.09" y="621.00" font-size="21.7" textLength="37.88" lengthAdjust="spacingAndGlyphs">400</text><text x="41.93" y="561.60" font-size="21.7" textLength="25.12" lengthAdjust="spacingAndGlyphs">70</text><text x="41.82" y="491.46" font-size="21.7" textLength="25.24" lengthAdjust="spacingAndGlyphs">80</text><text x="41.64" y="421.32" font-size="21.7" textLength="25.43" lengthAdjust="spacingAndGlyphs">90</text><text x="29.19" y="351.18" font-size="21.7" textLength="37.86" lengthAdjust="spacingAndGlyphs">100</text><text x="29.19" y="281.04" font-size="21.7" textLength="37.86" lengthAdjust="spacingAndGlyphs">110</text><text x="29.19" y="210.90" font-size="21.7" textLength="37.86" lengthAdjust="spacingAndGlyphs">120</text><text x="29.19" y="140.76" font-size="21.7" textLength="37.86" lengthAdjust="spacingAndGlyphs">130</text><text x="29.19" y="70.62" font-size="21.7" textLength="37.86" lengthAdjust="spacingAndGlyphs">140</text><text x="446.45" y="648.10" font-size="21.7" textLength="84.76" lengthAdjust="spacingAndGlyphs">Network</text><text x="538.66" y="648.10" font-size="21.7" textLength="60.77" lengthAdjust="spacingAndGlyphs">Traffic</text><text x="607.30" y="648.10" font-size="21.7" textLength="47.10" lengthAdjust="spacingAndGlyphs">(MB)</text></g>
<g transform="rotate(-90)" font-family="Liberation Sans, sans-serif" fill="#1a1a1a"><text x="-381.80" y="17.20" font-size="21.7" textLength="76.76" lengthAdjust="spacingAndGlyphs">System</text><text x="-298.55" y="17.20" font-size="21.7" textLength="48.29" lengthAdjust="spacingAndGlyphs">Calls</text></g>
<g font-family="Liberation Sans, sans-serif" fill="#2b2b2b"><text x="262.50" y="20.60" font-size="29.0" textLength="60.86" lengthAdjust="spacingAndGlyphs">Joint</text><text x="333.76" y="20.60" font-size="29.0" textLength="65.03" lengthAdjust="spacingAndGlyphs">KDE:</text><text x="406.50" y="20.60" font-size="29.0" textLength="113.90" lengthAdjust="spacingAndGlyphs">Network</text><text x="530.19" y="20.60" font-size="29.0" textLength="81.63" lengthAdjust="spacingAndGlyphs">Traffic</text><text x="623.05" y="20.60" font-size="29.0" textLength="28.84" lengthAdjust="spacingAndGlyphs">vs</text><text x="661.57" y="20.60" font-size="29.0" textLength="101.39" lengthAdjust="spacingAndGlyphs">System</text><text x="772.27" y="20.60" font-size="29.0" textLength="64.73" lengthAdjust="spacingAndGlyphs">Calls</text></g>
</svg>
</body></html>
